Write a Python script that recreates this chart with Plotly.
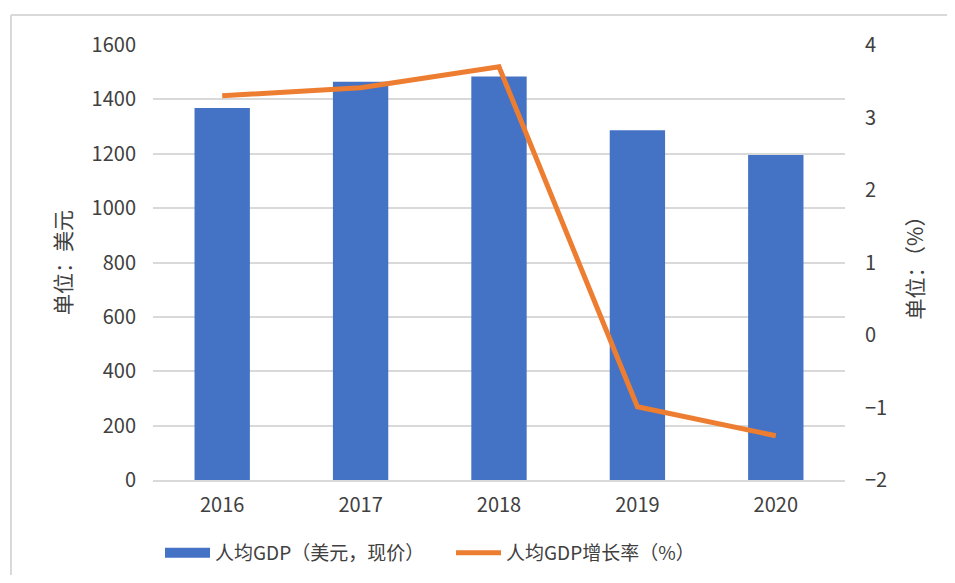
import plotly.graph_objects as go

years = ["2016", "2017", "2018", "2019", "2020"]
gdp_per_capita = [1368, 1465, 1484, 1286, 1195]
growth_rate = [3.30, 3.41, 3.70, -0.99, -1.39]

bar_name = "人均GDP（美元，现价）"
line_name = "人均GDP增长率（%）"
left_ticks = [0, 200, 400, 600, 800, 1000, 1200, 1400, 1600]
right_ticks = [-2, -1, 0, 1, 2, 3, 4]

FONT = "Noto Sans CJK SC"
TXT = "#404040"
BLUE = "#4472C4"
ORANGE = "#ED7D31"

fig = go.Figure()
fig.add_trace(go.Bar(x=years, y=gdp_per_capita, name=bar_name, showlegend=False,
                     marker=dict(color=BLUE, line=dict(width=0)), yaxis="y"))
# legend proxy for bars (wide rectangle symbol)
fig.add_trace(go.Scatter(x=[None], y=[None], name=bar_name, mode="lines",
                         line=dict(color=BLUE, width=13), yaxis="y", legend="legend"))
fig.add_trace(go.Scatter(x=years, y=growth_rate, name=line_name, mode="lines",
                         line=dict(color=ORANGE, width=5), yaxis="y2", legend="legend2"))

# page has an 8px body margin; size the figure so the page does not scroll
OFF = 8
W, H = 955 - 2 * OFF, 583 - 2 * OFF
L, T = 153 - OFF, 45 - OFF
pw, ph = 692, 435
R = W - L - pw
B = H - T - ph

def px(x):
    return (x - OFF - L) / pw

def py(y):
    return (H - B - (y - OFF)) / ph

legend_common = dict(orientation="h", yanchor="middle", y=py(553), xanchor="left",
                     font=dict(size=19, color=TXT), itemwidth=45, borderwidth=0,
                     bgcolor="rgba(0,0,0,0)")

border = dict(color="#D9D9D9", width=2)

fig.update_layout(
    width=W, height=H,
    margin=dict(l=L, r=R, t=T, b=B, autoexpand=False),
    paper_bgcolor="white", plot_bgcolor="white",
    font=dict(family=FONT, size=20, color=TXT),
    bargap=0.6,
    showlegend=True,
    legend=dict(x=px(160), **legend_common),
    legend2=dict(x=px(451), **legend_common),
    xaxis=dict(type="category", showgrid=False, showline=True, linecolor="#D9D9D9",
               linewidth=2, ticks="", tickfont=dict(size=20, color=TXT), automargin=False,
               ticklabelstandoff=6),
    yaxis=dict(range=[0, 1600], tickvals=left_ticks, showgrid=True, gridcolor="#D9D9D9",
               gridwidth=2, zeroline=False, showline=False, ticks="", automargin=False,
               tickfont=dict(size=20, color=TXT), ticklabelstandoff=16,
               title=dict(text="单位：美元", font=dict(size=21, color=TXT), standoff=14)),
    yaxis2=dict(range=[-2, 4], tickvals=right_ticks, overlaying="y", side="right",
                showgrid=False, zeroline=False, showline=False, ticks="", automargin=False,
                tickfont=dict(size=20, color=TXT), ticklabelstandoff=19,
                title=dict(text="单位：（%）", font=dict(size=21, color=TXT), standoff=22)),
    shapes=[
        dict(type="line", xref="paper", yref="paper", x0=px(11), x1=px(960),
             y0=py(15), y1=py(15), line=border, layer="below"),
        dict(type="line", xref="paper", yref="paper", x0=px(11), x1=px(11),
             y0=py(15), y1=py(590), line=border, layer="below"),
    ],
)

fig.write_html("out.html")
